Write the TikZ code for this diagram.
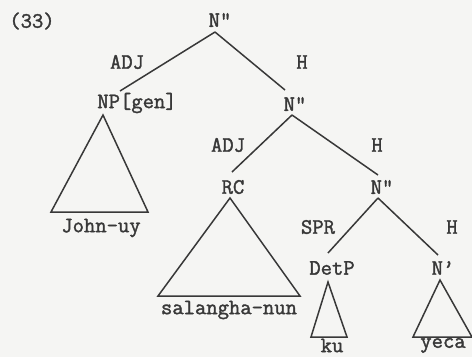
\documentclass[tikz,border=0pt]{standalone}
\usepackage{fontspec}
\usetikzlibrary{calc}
\definecolor{ink}{HTML}{383838}
\definecolor{paper}{HTML}{F5F5F3}
\newfontfamily\treefam[FakeBold=1.6]{Latin Modern Mono}
\newcommand{\treefont}{\treefam\fontsize{22}{24}\selectfont}
\begin{document}
\begin{tikzpicture}[x=1pt,y=-1pt,
  lbl/.style={inner sep=0pt,text=ink,font=\treefont},
  edge/.style={draw=ink,line width=1.5pt,line join=miter},
  tri/.style={draw=ink,line width=1.5pt,line join=miter}]
\fill[paper] (0,0) rectangle (472,357);
\useasboundingbox (0,0) rectangle (472,357);
% numbering
\node[lbl] (ex) at (32,21) {(33)};
% tree nodes
\node[lbl] (top) at (220,20) {N"};
\node[lbl] (npgen) at (137,103) {NP[gen]};
\node[lbl] (n2) at (295,104) {N"};
\node[lbl] (rc) at (233,187) {RC};
\node[lbl] (n3) at (382,187) {N"};
\node[lbl] (detp) at (332,268) {DetP};
\node[lbl] (nbar) at (443,268) {N\textquoteright};
% function labels
\node[lbl] (l1) at (127,62) {ADJ};
\node[lbl] (l2) at (302,62) {H};
\node[lbl] (l3) at (228,145) {ADJ};
\node[lbl] (l4) at (377,145) {H};
\node[lbl] (l5) at (318,227) {SPR};
\node[lbl] (l6) at (452,227) {H};
% leaves
\node[lbl] (john) at (101,228) {John-uy};
\node[lbl] (sal) at (229,310) {salangha-nun};
\node[lbl] (ku) at (332,345.5) {ku};
\node[lbl] (yeca) at (443,345.5) {yeca};
% branches
\draw[edge] ($(top)+(-5,12)$) -- ($(npgen)+(-17,-12)$);
\draw[edge] ($(top)+(-5,12)$) -- ($(n2)+(-10,-14)$);
\draw[edge] ($(n2)+(-3,11)$) -- ($(rc)+(-1,-15)$);
\draw[edge] ($(n2)+(-3,11)$) -- ($(n3)+(-4,-12)$);
\draw[edge] ($(n3)+(-4,11)$) -- ($(detp)+(-4,-15)$);
\draw[edge] ($(n3)+(-4,11)$) -- ($(nbar)+(-5,-13)$);
% triangles
\draw[tri] ($(npgen)+(-34,12)$) -- (51,212) -- (148,212) -- cycle;
\draw[tri] ($(rc)+(-3,11)$) -- (158,296) -- (300,296) -- cycle;
\draw[tri] ($(detp)+(-4,14)$) -- (311,337) -- (347,337) -- cycle;
\draw[tri] ($(nbar)+(-3,12)$) -- (413,337) -- (472,337) -- cycle;
\end{tikzpicture}
\end{document}
